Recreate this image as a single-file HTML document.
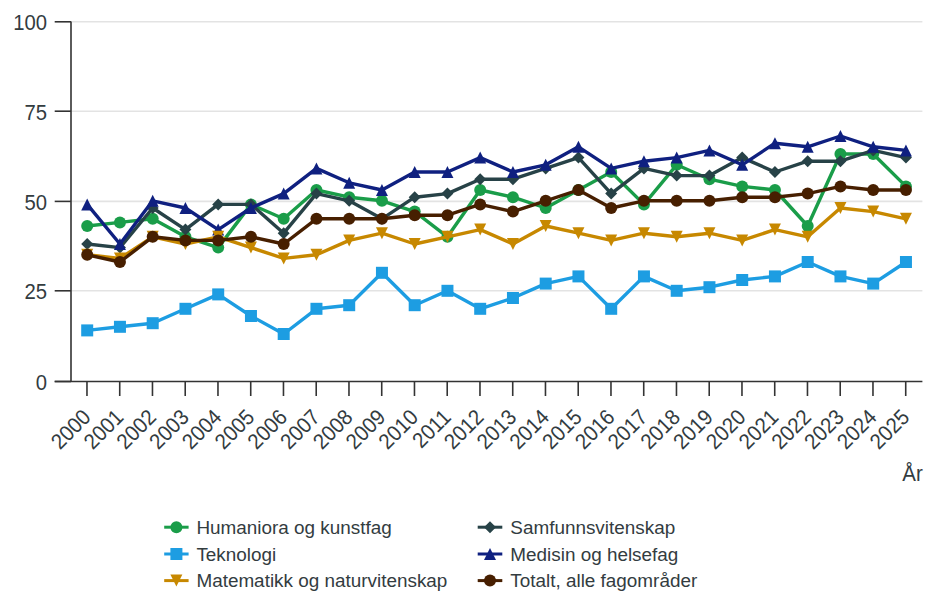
<!DOCTYPE html><html><head><meta charset="utf-8"><style>html,body{margin:0;padding:0;background:#fff;}svg{display:block;font-family:"Liberation Sans",sans-serif;}</style></head><body>
<svg width="938" height="606" viewBox="0 0 938 606">
<rect width="938" height="606" fill="#fff"/>
<line x1="71" x2="922.4" y1="290.80" y2="290.80" stroke="#e3e3e3" stroke-width="1.6"/>
<line x1="71" x2="922.4" y1="201.40" y2="201.40" stroke="#e3e3e3" stroke-width="1.6"/>
<line x1="71" x2="922.4" y1="111.20" y2="111.20" stroke="#e3e3e3" stroke-width="1.6"/>
<line x1="71" x2="922.4" y1="21.80" y2="21.80" stroke="#e3e3e3" stroke-width="1.6"/>
<line x1="71" x2="71" y1="21.5" y2="381.5" stroke="#333333" stroke-width="1.6"/>
<line x1="54.7" x2="71" y1="381.50" y2="381.50" stroke="#333333" stroke-width="1.6"/>
<text transform="translate(47 390.10) scale(1 1.075)" text-anchor="end" font-size="20.3" fill="#333c3f">0</text>
<line x1="54.7" x2="71" y1="290.80" y2="290.80" stroke="#333333" stroke-width="1.6"/>
<text transform="translate(47 299.40) scale(1 1.075)" text-anchor="end" font-size="20.3" fill="#333c3f">25</text>
<line x1="54.7" x2="71" y1="201.40" y2="201.40" stroke="#333333" stroke-width="1.6"/>
<text transform="translate(47 210.00) scale(1 1.075)" text-anchor="end" font-size="20.3" fill="#333c3f">50</text>
<line x1="54.7" x2="71" y1="111.20" y2="111.20" stroke="#333333" stroke-width="1.6"/>
<text transform="translate(47 119.80) scale(1 1.075)" text-anchor="end" font-size="20.3" fill="#333c3f">75</text>
<line x1="54.7" x2="71" y1="21.80" y2="21.80" stroke="#333333" stroke-width="1.6"/>
<text transform="translate(47 30.40) scale(1 1.075)" text-anchor="end" font-size="20.3" fill="#333c3f">100</text>
<line x1="54.7" x2="922.4" y1="381.5" y2="381.5" stroke="#333333" stroke-width="1.6"/>
<line x1="86.97" x2="86.97" y1="381.5" y2="396" stroke="#333333" stroke-width="1.6"/>
<text transform="translate(91.97 418.50) rotate(-45) scale(1 1.075)" text-anchor="end" font-size="20.3" fill="#333c3f">2000</text>
<line x1="119.72" x2="119.72" y1="381.5" y2="396" stroke="#333333" stroke-width="1.6"/>
<text transform="translate(124.72 418.50) rotate(-45) scale(1 1.075)" text-anchor="end" font-size="20.3" fill="#333c3f">2001</text>
<line x1="152.47" x2="152.47" y1="381.5" y2="396" stroke="#333333" stroke-width="1.6"/>
<text transform="translate(157.47 418.50) rotate(-45) scale(1 1.075)" text-anchor="end" font-size="20.3" fill="#333c3f">2002</text>
<line x1="185.22" x2="185.22" y1="381.5" y2="396" stroke="#333333" stroke-width="1.6"/>
<text transform="translate(190.22 418.50) rotate(-45) scale(1 1.075)" text-anchor="end" font-size="20.3" fill="#333c3f">2003</text>
<line x1="217.97" x2="217.97" y1="381.5" y2="396" stroke="#333333" stroke-width="1.6"/>
<text transform="translate(222.97 418.50) rotate(-45) scale(1 1.075)" text-anchor="end" font-size="20.3" fill="#333c3f">2004</text>
<line x1="250.72" x2="250.72" y1="381.5" y2="396" stroke="#333333" stroke-width="1.6"/>
<text transform="translate(255.72 418.50) rotate(-45) scale(1 1.075)" text-anchor="end" font-size="20.3" fill="#333c3f">2005</text>
<line x1="283.47" x2="283.47" y1="381.5" y2="396" stroke="#333333" stroke-width="1.6"/>
<text transform="translate(288.47 418.50) rotate(-45) scale(1 1.075)" text-anchor="end" font-size="20.3" fill="#333c3f">2006</text>
<line x1="316.22" x2="316.22" y1="381.5" y2="396" stroke="#333333" stroke-width="1.6"/>
<text transform="translate(321.22 418.50) rotate(-45) scale(1 1.075)" text-anchor="end" font-size="20.3" fill="#333c3f">2007</text>
<line x1="348.97" x2="348.97" y1="381.5" y2="396" stroke="#333333" stroke-width="1.6"/>
<text transform="translate(353.97 418.50) rotate(-45) scale(1 1.075)" text-anchor="end" font-size="20.3" fill="#333c3f">2008</text>
<line x1="381.72" x2="381.72" y1="381.5" y2="396" stroke="#333333" stroke-width="1.6"/>
<text transform="translate(386.72 418.50) rotate(-45) scale(1 1.075)" text-anchor="end" font-size="20.3" fill="#333c3f">2009</text>
<line x1="414.47" x2="414.47" y1="381.5" y2="396" stroke="#333333" stroke-width="1.6"/>
<text transform="translate(419.47 418.50) rotate(-45) scale(1 1.075)" text-anchor="end" font-size="20.3" fill="#333c3f">2010</text>
<line x1="447.22" x2="447.22" y1="381.5" y2="396" stroke="#333333" stroke-width="1.6"/>
<text transform="translate(452.22 418.50) rotate(-45) scale(1 1.075)" text-anchor="end" font-size="20.3" fill="#333c3f">2011</text>
<line x1="479.97" x2="479.97" y1="381.5" y2="396" stroke="#333333" stroke-width="1.6"/>
<text transform="translate(484.97 418.50) rotate(-45) scale(1 1.075)" text-anchor="end" font-size="20.3" fill="#333c3f">2012</text>
<line x1="512.72" x2="512.72" y1="381.5" y2="396" stroke="#333333" stroke-width="1.6"/>
<text transform="translate(517.72 418.50) rotate(-45) scale(1 1.075)" text-anchor="end" font-size="20.3" fill="#333c3f">2013</text>
<line x1="545.47" x2="545.47" y1="381.5" y2="396" stroke="#333333" stroke-width="1.6"/>
<text transform="translate(550.47 418.50) rotate(-45) scale(1 1.075)" text-anchor="end" font-size="20.3" fill="#333c3f">2014</text>
<line x1="578.22" x2="578.22" y1="381.5" y2="396" stroke="#333333" stroke-width="1.6"/>
<text transform="translate(583.22 418.50) rotate(-45) scale(1 1.075)" text-anchor="end" font-size="20.3" fill="#333c3f">2015</text>
<line x1="610.97" x2="610.97" y1="381.5" y2="396" stroke="#333333" stroke-width="1.6"/>
<text transform="translate(615.97 418.50) rotate(-45) scale(1 1.075)" text-anchor="end" font-size="20.3" fill="#333c3f">2016</text>
<line x1="643.72" x2="643.72" y1="381.5" y2="396" stroke="#333333" stroke-width="1.6"/>
<text transform="translate(648.72 418.50) rotate(-45) scale(1 1.075)" text-anchor="end" font-size="20.3" fill="#333c3f">2017</text>
<line x1="676.47" x2="676.47" y1="381.5" y2="396" stroke="#333333" stroke-width="1.6"/>
<text transform="translate(681.47 418.50) rotate(-45) scale(1 1.075)" text-anchor="end" font-size="20.3" fill="#333c3f">2018</text>
<line x1="709.22" x2="709.22" y1="381.5" y2="396" stroke="#333333" stroke-width="1.6"/>
<text transform="translate(714.22 418.50) rotate(-45) scale(1 1.075)" text-anchor="end" font-size="20.3" fill="#333c3f">2019</text>
<line x1="741.97" x2="741.97" y1="381.5" y2="396" stroke="#333333" stroke-width="1.6"/>
<text transform="translate(746.97 418.50) rotate(-45) scale(1 1.075)" text-anchor="end" font-size="20.3" fill="#333c3f">2020</text>
<line x1="774.72" x2="774.72" y1="381.5" y2="396" stroke="#333333" stroke-width="1.6"/>
<text transform="translate(779.72 418.50) rotate(-45) scale(1 1.075)" text-anchor="end" font-size="20.3" fill="#333c3f">2021</text>
<line x1="807.47" x2="807.47" y1="381.5" y2="396" stroke="#333333" stroke-width="1.6"/>
<text transform="translate(812.47 418.50) rotate(-45) scale(1 1.075)" text-anchor="end" font-size="20.3" fill="#333c3f">2022</text>
<line x1="840.22" x2="840.22" y1="381.5" y2="396" stroke="#333333" stroke-width="1.6"/>
<text transform="translate(845.22 418.50) rotate(-45) scale(1 1.075)" text-anchor="end" font-size="20.3" fill="#333c3f">2023</text>
<line x1="872.97" x2="872.97" y1="381.5" y2="396" stroke="#333333" stroke-width="1.6"/>
<text transform="translate(877.97 418.50) rotate(-45) scale(1 1.075)" text-anchor="end" font-size="20.3" fill="#333c3f">2024</text>
<line x1="905.72" x2="905.72" y1="381.5" y2="396" stroke="#333333" stroke-width="1.6"/>
<text transform="translate(910.72 418.50) rotate(-45) scale(1 1.075)" text-anchor="end" font-size="20.3" fill="#333c3f">2025</text>
<text transform="translate(922.7 480.6) scale(1 1.08)" text-anchor="end" font-size="20.5" fill="#333c3f">År</text>
<polyline points="87.20,226.00 119.95,222.40 152.70,218.80 185.45,236.80 218.20,247.60 250.95,204.40 283.70,218.80 316.45,190.00 349.20,197.20 381.95,200.80 414.70,211.60 447.45,236.80 480.20,190.00 512.95,197.20 545.70,208.00 578.45,190.00 611.20,172.00 643.95,204.40 676.70,164.80 709.45,179.20 742.20,186.40 774.95,190.00 807.70,226.00 840.45,154.00 873.20,154.00 905.95,186.40" fill="none" stroke="#1a9d49" stroke-width="3.4" stroke-linejoin="round" stroke-linecap="round"/>
<circle cx="87.20" cy="226.00" r="6" fill="#1a9d49"/>
<circle cx="119.95" cy="222.40" r="6" fill="#1a9d49"/>
<circle cx="152.70" cy="218.80" r="6" fill="#1a9d49"/>
<circle cx="185.45" cy="236.80" r="6" fill="#1a9d49"/>
<circle cx="218.20" cy="247.60" r="6" fill="#1a9d49"/>
<circle cx="250.95" cy="204.40" r="6" fill="#1a9d49"/>
<circle cx="283.70" cy="218.80" r="6" fill="#1a9d49"/>
<circle cx="316.45" cy="190.00" r="6" fill="#1a9d49"/>
<circle cx="349.20" cy="197.20" r="6" fill="#1a9d49"/>
<circle cx="381.95" cy="200.80" r="6" fill="#1a9d49"/>
<circle cx="414.70" cy="211.60" r="6" fill="#1a9d49"/>
<circle cx="447.45" cy="236.80" r="6" fill="#1a9d49"/>
<circle cx="480.20" cy="190.00" r="6" fill="#1a9d49"/>
<circle cx="512.95" cy="197.20" r="6" fill="#1a9d49"/>
<circle cx="545.70" cy="208.00" r="6" fill="#1a9d49"/>
<circle cx="578.45" cy="190.00" r="6" fill="#1a9d49"/>
<circle cx="611.20" cy="172.00" r="6" fill="#1a9d49"/>
<circle cx="643.95" cy="204.40" r="6" fill="#1a9d49"/>
<circle cx="676.70" cy="164.80" r="6" fill="#1a9d49"/>
<circle cx="709.45" cy="179.20" r="6" fill="#1a9d49"/>
<circle cx="742.20" cy="186.40" r="6" fill="#1a9d49"/>
<circle cx="774.95" cy="190.00" r="6" fill="#1a9d49"/>
<circle cx="807.70" cy="226.00" r="6" fill="#1a9d49"/>
<circle cx="840.45" cy="154.00" r="6" fill="#1a9d49"/>
<circle cx="873.20" cy="154.00" r="6" fill="#1a9d49"/>
<circle cx="905.95" cy="186.40" r="6" fill="#1a9d49"/>
<polyline points="87.20,244.00 119.95,247.60 152.70,208.00 185.45,229.60 218.20,204.40 250.95,204.40 283.70,233.20 316.45,193.60 349.20,200.80 381.95,218.80 414.70,197.20 447.45,193.60 480.20,179.20 512.95,179.20 545.70,168.40 578.45,157.60 611.20,193.60 643.95,168.40 676.70,175.60 709.45,175.60 742.20,157.60 774.95,172.00 807.70,161.20 840.45,161.20 873.20,150.40 905.95,157.60" fill="none" stroke="#274247" stroke-width="3.4" stroke-linejoin="round" stroke-linecap="round"/>
<path d="M87.20 238.00L93.20 244.00L87.20 250.00L81.20 244.00Z" fill="#274247"/>
<path d="M119.95 241.60L125.95 247.60L119.95 253.60L113.95 247.60Z" fill="#274247"/>
<path d="M152.70 202.00L158.70 208.00L152.70 214.00L146.70 208.00Z" fill="#274247"/>
<path d="M185.45 223.60L191.45 229.60L185.45 235.60L179.45 229.60Z" fill="#274247"/>
<path d="M218.20 198.40L224.20 204.40L218.20 210.40L212.20 204.40Z" fill="#274247"/>
<path d="M250.95 198.40L256.95 204.40L250.95 210.40L244.95 204.40Z" fill="#274247"/>
<path d="M283.70 227.20L289.70 233.20L283.70 239.20L277.70 233.20Z" fill="#274247"/>
<path d="M316.45 187.60L322.45 193.60L316.45 199.60L310.45 193.60Z" fill="#274247"/>
<path d="M349.20 194.80L355.20 200.80L349.20 206.80L343.20 200.80Z" fill="#274247"/>
<path d="M381.95 212.80L387.95 218.80L381.95 224.80L375.95 218.80Z" fill="#274247"/>
<path d="M414.70 191.20L420.70 197.20L414.70 203.20L408.70 197.20Z" fill="#274247"/>
<path d="M447.45 187.60L453.45 193.60L447.45 199.60L441.45 193.60Z" fill="#274247"/>
<path d="M480.20 173.20L486.20 179.20L480.20 185.20L474.20 179.20Z" fill="#274247"/>
<path d="M512.95 173.20L518.95 179.20L512.95 185.20L506.95 179.20Z" fill="#274247"/>
<path d="M545.70 162.40L551.70 168.40L545.70 174.40L539.70 168.40Z" fill="#274247"/>
<path d="M578.45 151.60L584.45 157.60L578.45 163.60L572.45 157.60Z" fill="#274247"/>
<path d="M611.20 187.60L617.20 193.60L611.20 199.60L605.20 193.60Z" fill="#274247"/>
<path d="M643.95 162.40L649.95 168.40L643.95 174.40L637.95 168.40Z" fill="#274247"/>
<path d="M676.70 169.60L682.70 175.60L676.70 181.60L670.70 175.60Z" fill="#274247"/>
<path d="M709.45 169.60L715.45 175.60L709.45 181.60L703.45 175.60Z" fill="#274247"/>
<path d="M742.20 151.60L748.20 157.60L742.20 163.60L736.20 157.60Z" fill="#274247"/>
<path d="M774.95 166.00L780.95 172.00L774.95 178.00L768.95 172.00Z" fill="#274247"/>
<path d="M807.70 155.20L813.70 161.20L807.70 167.20L801.70 161.20Z" fill="#274247"/>
<path d="M840.45 155.20L846.45 161.20L840.45 167.20L834.45 161.20Z" fill="#274247"/>
<path d="M873.20 144.40L879.20 150.40L873.20 156.40L867.20 150.40Z" fill="#274247"/>
<path d="M905.95 151.60L911.95 157.60L905.95 163.60L899.95 157.60Z" fill="#274247"/>
<polyline points="87.20,330.40 119.95,326.80 152.70,323.20 185.45,308.80 218.20,294.40 250.95,316.00 283.70,334.00 316.45,308.80 349.20,305.20 381.95,272.80 414.70,305.20 447.45,290.80 480.20,308.80 512.95,298.00 545.70,283.60 578.45,276.40 611.20,308.80 643.95,276.40 676.70,290.80 709.45,287.20 742.20,280.00 774.95,276.40 807.70,262.00 840.45,276.40 873.20,283.60 905.95,262.00" fill="none" stroke="#1d9de2" stroke-width="3.4" stroke-linejoin="round" stroke-linecap="round"/>
<rect x="81.20" y="324.40" width="12" height="12" fill="#1d9de2"/>
<rect x="113.95" y="320.80" width="12" height="12" fill="#1d9de2"/>
<rect x="146.70" y="317.20" width="12" height="12" fill="#1d9de2"/>
<rect x="179.45" y="302.80" width="12" height="12" fill="#1d9de2"/>
<rect x="212.20" y="288.40" width="12" height="12" fill="#1d9de2"/>
<rect x="244.95" y="310.00" width="12" height="12" fill="#1d9de2"/>
<rect x="277.70" y="328.00" width="12" height="12" fill="#1d9de2"/>
<rect x="310.45" y="302.80" width="12" height="12" fill="#1d9de2"/>
<rect x="343.20" y="299.20" width="12" height="12" fill="#1d9de2"/>
<rect x="375.95" y="266.80" width="12" height="12" fill="#1d9de2"/>
<rect x="408.70" y="299.20" width="12" height="12" fill="#1d9de2"/>
<rect x="441.45" y="284.80" width="12" height="12" fill="#1d9de2"/>
<rect x="474.20" y="302.80" width="12" height="12" fill="#1d9de2"/>
<rect x="506.95" y="292.00" width="12" height="12" fill="#1d9de2"/>
<rect x="539.70" y="277.60" width="12" height="12" fill="#1d9de2"/>
<rect x="572.45" y="270.40" width="12" height="12" fill="#1d9de2"/>
<rect x="605.20" y="302.80" width="12" height="12" fill="#1d9de2"/>
<rect x="637.95" y="270.40" width="12" height="12" fill="#1d9de2"/>
<rect x="670.70" y="284.80" width="12" height="12" fill="#1d9de2"/>
<rect x="703.45" y="281.20" width="12" height="12" fill="#1d9de2"/>
<rect x="736.20" y="274.00" width="12" height="12" fill="#1d9de2"/>
<rect x="768.95" y="270.40" width="12" height="12" fill="#1d9de2"/>
<rect x="801.70" y="256.00" width="12" height="12" fill="#1d9de2"/>
<rect x="834.45" y="270.40" width="12" height="12" fill="#1d9de2"/>
<rect x="867.20" y="277.60" width="12" height="12" fill="#1d9de2"/>
<rect x="899.95" y="256.00" width="12" height="12" fill="#1d9de2"/>
<polyline points="87.20,204.40 119.95,244.00 152.70,200.80 185.45,208.00 218.20,229.60 250.95,208.00 283.70,193.60 316.45,168.40 349.20,182.80 381.95,190.00 414.70,172.00 447.45,172.00 480.20,157.60 512.95,172.00 545.70,164.80 578.45,146.80 611.20,168.40 643.95,161.20 676.70,157.60 709.45,150.40 742.20,164.80 774.95,143.20 807.70,146.80 840.45,136.00 873.20,146.80 905.95,150.40" fill="none" stroke="#0f2080" stroke-width="3.4" stroke-linejoin="round" stroke-linecap="round"/>
<path d="M87.20 198.40L93.20 210.40L81.20 210.40Z" fill="#0f2080"/>
<path d="M119.95 238.00L125.95 250.00L113.95 250.00Z" fill="#0f2080"/>
<path d="M152.70 194.80L158.70 206.80L146.70 206.80Z" fill="#0f2080"/>
<path d="M185.45 202.00L191.45 214.00L179.45 214.00Z" fill="#0f2080"/>
<path d="M218.20 223.60L224.20 235.60L212.20 235.60Z" fill="#0f2080"/>
<path d="M250.95 202.00L256.95 214.00L244.95 214.00Z" fill="#0f2080"/>
<path d="M283.70 187.60L289.70 199.60L277.70 199.60Z" fill="#0f2080"/>
<path d="M316.45 162.40L322.45 174.40L310.45 174.40Z" fill="#0f2080"/>
<path d="M349.20 176.80L355.20 188.80L343.20 188.80Z" fill="#0f2080"/>
<path d="M381.95 184.00L387.95 196.00L375.95 196.00Z" fill="#0f2080"/>
<path d="M414.70 166.00L420.70 178.00L408.70 178.00Z" fill="#0f2080"/>
<path d="M447.45 166.00L453.45 178.00L441.45 178.00Z" fill="#0f2080"/>
<path d="M480.20 151.60L486.20 163.60L474.20 163.60Z" fill="#0f2080"/>
<path d="M512.95 166.00L518.95 178.00L506.95 178.00Z" fill="#0f2080"/>
<path d="M545.70 158.80L551.70 170.80L539.70 170.80Z" fill="#0f2080"/>
<path d="M578.45 140.80L584.45 152.80L572.45 152.80Z" fill="#0f2080"/>
<path d="M611.20 162.40L617.20 174.40L605.20 174.40Z" fill="#0f2080"/>
<path d="M643.95 155.20L649.95 167.20L637.95 167.20Z" fill="#0f2080"/>
<path d="M676.70 151.60L682.70 163.60L670.70 163.60Z" fill="#0f2080"/>
<path d="M709.45 144.40L715.45 156.40L703.45 156.40Z" fill="#0f2080"/>
<path d="M742.20 158.80L748.20 170.80L736.20 170.80Z" fill="#0f2080"/>
<path d="M774.95 137.20L780.95 149.20L768.95 149.20Z" fill="#0f2080"/>
<path d="M807.70 140.80L813.70 152.80L801.70 152.80Z" fill="#0f2080"/>
<path d="M840.45 130.00L846.45 142.00L834.45 142.00Z" fill="#0f2080"/>
<path d="M873.20 140.80L879.20 152.80L867.20 152.80Z" fill="#0f2080"/>
<path d="M905.95 144.40L911.95 156.40L899.95 156.40Z" fill="#0f2080"/>
<polyline points="87.20,254.80 119.95,258.40 152.70,236.80 185.45,244.00 218.20,236.80 250.95,247.60 283.70,258.40 316.45,254.80 349.20,240.40 381.95,233.20 414.70,244.00 447.45,236.80 480.20,229.60 512.95,244.00 545.70,226.00 578.45,233.20 611.20,240.40 643.95,233.20 676.70,236.80 709.45,233.20 742.20,240.40 774.95,229.60 807.70,236.80 840.45,208.00 873.20,211.60 905.95,218.80" fill="none" stroke="#c78800" stroke-width="3.4" stroke-linejoin="round" stroke-linecap="round"/>
<path d="M81.20 248.80L93.20 248.80L87.20 260.80Z" fill="#c78800"/>
<path d="M113.95 252.40L125.95 252.40L119.95 264.40Z" fill="#c78800"/>
<path d="M146.70 230.80L158.70 230.80L152.70 242.80Z" fill="#c78800"/>
<path d="M179.45 238.00L191.45 238.00L185.45 250.00Z" fill="#c78800"/>
<path d="M212.20 230.80L224.20 230.80L218.20 242.80Z" fill="#c78800"/>
<path d="M244.95 241.60L256.95 241.60L250.95 253.60Z" fill="#c78800"/>
<path d="M277.70 252.40L289.70 252.40L283.70 264.40Z" fill="#c78800"/>
<path d="M310.45 248.80L322.45 248.80L316.45 260.80Z" fill="#c78800"/>
<path d="M343.20 234.40L355.20 234.40L349.20 246.40Z" fill="#c78800"/>
<path d="M375.95 227.20L387.95 227.20L381.95 239.20Z" fill="#c78800"/>
<path d="M408.70 238.00L420.70 238.00L414.70 250.00Z" fill="#c78800"/>
<path d="M441.45 230.80L453.45 230.80L447.45 242.80Z" fill="#c78800"/>
<path d="M474.20 223.60L486.20 223.60L480.20 235.60Z" fill="#c78800"/>
<path d="M506.95 238.00L518.95 238.00L512.95 250.00Z" fill="#c78800"/>
<path d="M539.70 220.00L551.70 220.00L545.70 232.00Z" fill="#c78800"/>
<path d="M572.45 227.20L584.45 227.20L578.45 239.20Z" fill="#c78800"/>
<path d="M605.20 234.40L617.20 234.40L611.20 246.40Z" fill="#c78800"/>
<path d="M637.95 227.20L649.95 227.20L643.95 239.20Z" fill="#c78800"/>
<path d="M670.70 230.80L682.70 230.80L676.70 242.80Z" fill="#c78800"/>
<path d="M703.45 227.20L715.45 227.20L709.45 239.20Z" fill="#c78800"/>
<path d="M736.20 234.40L748.20 234.40L742.20 246.40Z" fill="#c78800"/>
<path d="M768.95 223.60L780.95 223.60L774.95 235.60Z" fill="#c78800"/>
<path d="M801.70 230.80L813.70 230.80L807.70 242.80Z" fill="#c78800"/>
<path d="M834.45 202.00L846.45 202.00L840.45 214.00Z" fill="#c78800"/>
<path d="M867.20 205.60L879.20 205.60L873.20 217.60Z" fill="#c78800"/>
<path d="M899.95 212.80L911.95 212.80L905.95 224.80Z" fill="#c78800"/>
<polyline points="87.20,254.80 119.95,262.00 152.70,236.80 185.45,240.40 218.20,240.40 250.95,236.80 283.70,244.00 316.45,218.80 349.20,218.80 381.95,218.80 414.70,215.20 447.45,215.20 480.20,204.40 512.95,211.60 545.70,200.80 578.45,190.00 611.20,208.00 643.95,200.80 676.70,200.80 709.45,200.80 742.20,197.20 774.95,197.20 807.70,193.60 840.45,186.40 873.20,190.00 905.95,190.00" fill="none" stroke="#471f00" stroke-width="3.4" stroke-linejoin="round" stroke-linecap="round"/>
<circle cx="87.20" cy="254.80" r="6" fill="#471f00"/>
<circle cx="119.95" cy="262.00" r="6" fill="#471f00"/>
<circle cx="152.70" cy="236.80" r="6" fill="#471f00"/>
<circle cx="185.45" cy="240.40" r="6" fill="#471f00"/>
<circle cx="218.20" cy="240.40" r="6" fill="#471f00"/>
<circle cx="250.95" cy="236.80" r="6" fill="#471f00"/>
<circle cx="283.70" cy="244.00" r="6" fill="#471f00"/>
<circle cx="316.45" cy="218.80" r="6" fill="#471f00"/>
<circle cx="349.20" cy="218.80" r="6" fill="#471f00"/>
<circle cx="381.95" cy="218.80" r="6" fill="#471f00"/>
<circle cx="414.70" cy="215.20" r="6" fill="#471f00"/>
<circle cx="447.45" cy="215.20" r="6" fill="#471f00"/>
<circle cx="480.20" cy="204.40" r="6" fill="#471f00"/>
<circle cx="512.95" cy="211.60" r="6" fill="#471f00"/>
<circle cx="545.70" cy="200.80" r="6" fill="#471f00"/>
<circle cx="578.45" cy="190.00" r="6" fill="#471f00"/>
<circle cx="611.20" cy="208.00" r="6" fill="#471f00"/>
<circle cx="643.95" cy="200.80" r="6" fill="#471f00"/>
<circle cx="676.70" cy="200.80" r="6" fill="#471f00"/>
<circle cx="709.45" cy="200.80" r="6" fill="#471f00"/>
<circle cx="742.20" cy="197.20" r="6" fill="#471f00"/>
<circle cx="774.95" cy="197.20" r="6" fill="#471f00"/>
<circle cx="807.70" cy="193.60" r="6" fill="#471f00"/>
<circle cx="840.45" cy="186.40" r="6" fill="#471f00"/>
<circle cx="873.20" cy="190.00" r="6" fill="#471f00"/>
<circle cx="905.95" cy="190.00" r="6" fill="#471f00"/>
<line x1="164.2" x2="188.6" y1="527.2" y2="527.2" stroke="#1a9d49" stroke-width="3"/>
<circle cx="176.40" cy="527.20" r="6" fill="#1a9d49"/>
<text x="196.4" y="533.70" font-size="18.9" fill="#333c3f">Humaniora og kunstfag</text>
<line x1="477.7" x2="502.3" y1="527.2" y2="527.2" stroke="#274247" stroke-width="3"/>
<path d="M490.00 521.20L496.00 527.20L490.00 533.20L484.00 527.20Z" fill="#274247"/>
<text x="510.3" y="533.70" font-size="18.9" fill="#333c3f">Samfunnsvitenskap</text>
<line x1="164.2" x2="188.6" y1="554.0" y2="554.0" stroke="#1d9de2" stroke-width="3"/>
<rect x="170.40" y="548.00" width="12" height="12" fill="#1d9de2"/>
<text x="196.4" y="560.50" font-size="18.9" fill="#333c3f">Teknologi</text>
<line x1="477.7" x2="502.3" y1="554.0" y2="554.0" stroke="#0f2080" stroke-width="3"/>
<path d="M490.00 548.00L496.00 560.00L484.00 560.00Z" fill="#0f2080"/>
<text x="510.3" y="560.50" font-size="18.9" fill="#333c3f">Medisin og helsefag</text>
<line x1="164.2" x2="188.6" y1="580.6" y2="580.6" stroke="#c78800" stroke-width="3"/>
<path d="M170.40 574.60L182.40 574.60L176.40 586.60Z" fill="#c78800"/>
<text x="196.4" y="587.10" font-size="18.9" fill="#333c3f">Matematikk og naturvitenskap</text>
<line x1="477.7" x2="502.3" y1="580.6" y2="580.6" stroke="#471f00" stroke-width="3"/>
<circle cx="490.00" cy="580.60" r="6" fill="#471f00"/>
<text x="510.3" y="587.10" font-size="18.9" fill="#333c3f">Totalt, alle fagområder</text>
</svg></body></html>
